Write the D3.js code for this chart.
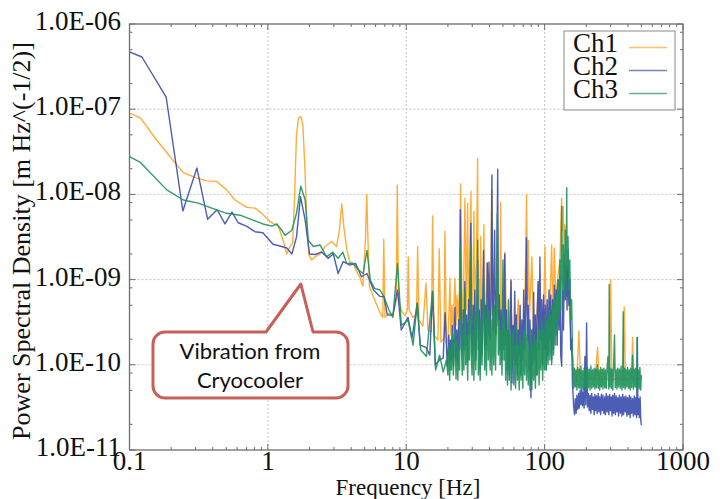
<!DOCTYPE html>
<head>
<meta charset='utf-8'>
<style>
  body { margin: 0; background: #fff; }
  svg { display: block; }
  .tick-label { font-family: 'Liberation Serif', 'Times New Roman', serif; font-size: 27px; fill: #111; }
  .axis-title { font-family: 'Liberation Serif', 'Times New Roman', serif; fill: #111; }
  .legend-text { font-family: 'Liberation Serif', 'Times New Roman', serif; font-size: 27px; fill: #111; }
  .callout-text { font-family: Lato, 'Open Sans', sans-serif; font-size: 22px; fill: #111; }
</style>
</head>
<body>
<div id='vis'></div>
<script src='https://cdn.jsdelivr.net/npm/d3@7'></script>
<script>
// ---- data: [frequency Hz, PSD m/Hz^(1/2)] ----
const ch1 = [
  [0.1,9.0e-8],[0.12,7.9e-8],[0.157,4.35e-8],[0.207,2.5e-8],[0.245,1.8e-8],[0.306,1.55e-8],
  [0.361,1.44e-8],[0.427,1.42e-8],[0.504,1.13e-8],[0.578,8.6e-9],[0.703,7.05e-9],[0.807,6.9e-9],
  [0.902,6.0e-9],[1.035,4.8e-9],[1.19,4.2e-9],[1.29,2.9e-9],[1.37,2.0e-9],[1.445,2.45e-9],
  [1.51,2.7e-9],[1.556,8.6e-9],[1.61,5.0e-8],[1.665,7.9e-8],[1.735,8.2e-8],[1.79,6.5e-8],
  [1.855,1.93e-8],[1.92,3.8e-9],[1.98,1.95e-9],[2.07,1.7e-9],[2.19,1.85e-9],[2.38,2.0e-9],
  [2.59,2.45e-9],[2.89,2.8e-9],[3.14,2.45e-9],[3.29,3.8e-9],[3.42,7.7e-9],[3.55,4.0e-9],
  [3.73,2.2e-9],[3.92,1.6e-9],[4.14,1.55e-9],[4.40,1.23e-9],[4.63,1.06e-9],[4.86,8.4e-10],
  [5.07,2.9e-9],[5.18,1.0e-8],[5.29,2.9e-9],[5.42,8.3e-10],[5.78,6.35e-10],[6.14,5.0e-10],
  [6.46,4.1e-10],[6.77,3.6e-10],[6.88,2.97e-9],[7.02,3.6e-10],[7.5,4.0e-10],[8.02,3.8e-10],
  [8.47,5.8e-10],[8.61,1.29e-8],[8.79,5.8e-10],[9.31,4.2e-10],[9.79,3.8e-10],[10.2,4.4e-10],
  [10.34,1.85e-9],[10.5,4.4e-10],[11.18,3.6e-10],[11.85,3.8e-10],[12.09,2.45e-9],[12.35,3.35e-10],
  [13.2,2.85e-10],[13.88,9.1e-10],[14.35,2.56e-10],[15.2,2.45e-10],[15.51,5.6e-9],[15.86,2.24e-10],
  [16.94,1.95e-10],[17.31,2.3e-9],[17.81,1.85e-10],[18.73,2.05e-10],[19.04,3.7e-9],[19.52,1.75e-10],
  [20,2.0e-10],[20.4,4.4e-10],[20.7,1.04e-9],[21.0,2.24e-10],[21.4,5.0e-10],[21.8,2.56e-10],
  [22.2,5.8e-10],[22.48,1.03e-9],[22.9,2.9e-10],[23.3,6.6e-10],[23.7,3.35e-10],[24.23,7.55e-10],
  [24.72,1.33e-8],[25.26,5.8e-10],[25.6,3.35e-10],[26.0,8.6e-10],[26.56,9.0e-9],[27.14,4.4e-10],
  [27.78,7.9e-9],[28.2,3.85e-10],[28.53,8.6e-10],[29.35,1.09e-8],[29.7,5.0e-10],[30.09,3.35e-10],
  [30.85,6.3e-9],[31.2,4.4e-10],[31.52,9.9e-10],[32.15,1.7e-9],[32.8,2.65e-8],[33.1,5.0e-10],
  [33.51,1.0e-9],[34.0,3.85e-10],[34.48,3.2e-9],[34.9,5.0e-10],[35.35,3.35e-10],[35.9,7.55e-10],
  [36.42,4.4e-9],[36.9,4.4e-10],[37.35,2.9e-10],[37.9,6.6e-10],[38.48,1.57e-9],[39.0,3.35e-10],
  [39.6,5.8e-10],[40.25,2.56e-10],[40.8,6.6e-10],[41.41,1.13e-8],[41.9,3.85e-10],[42.5,5.8e-10],
  [43.2,2.56e-10],[43.9,5.0e-10],[44.6,2.24e-10],[45.23,7.5e-10],[46.0,2.9e-10],[46.76,4.4e-10],
  [47.4,2.56e-10],[48.1,8.1e-9],[48.7,3.35e-10],[49.15,5.0e-10],
  [51.67,2.1e-9],[52.97,2.56e-10],[55.2,1.95e-10],
  [57.07,9.5e-10],[58.5,1.7e-10],[61.0,1.3e-10],[64.45,5.8e-10],[66.3,1.0e-10],[68.55,1.5e-10],
  [71.45,2.56e-10],[74.1,1.0e-8],[75.1,5.8e-10],[76.1,2.9e-9],[77.6,3.35e-10],[80.9,1.85e-9],
  [83.0,2.56e-10],[86.5,1.7e-10],[89.9,9.5e-10],[91.7,1.95e-10],[95.6,2.56e-10],[98.9,5.8e-10],
  [100.5,2.45e-9],[103.0,2.56e-10],[107.4,2.24e-10],[112.4,2.55e-9],[114.8,3.35e-10],[117.4,2.35e-9],
  [120.7,5.8e-10],[124.8,1.13e-9],[129,1.7e-9],[132.7,9.0e-9],[134.5,3.8e-9],[136.3,7.2e-9],
  [137.9,2.55e-9],[140.2,4.4e-9],[143.7,1.7e-9],[147.4,1.0e-9],[152.3,3.35e-10],[157.5,1.5e-10],
  [162.8,7.6e-11],[170.3,6.4e-11],[176.9,2.5e-10],[181.4,7.0e-11],[195.6,6.6e-11],[212.5,7.0e-11],
  [231,6.6e-11],[241.5,1.6e-10],[246.8,6.6e-11],[272.8,7.0e-11],[293.9,6.6e-11],[299.9,1.0e-9],
  [306.4,6.6e-11],[338.6,7.0e-11],[368,6.6e-11],[376,4.8e-10],[383.6,6.6e-11],[424,7.0e-11],
  [432.5,2.1e-10],[441.9,6.6e-11],[472.2,7.0e-11],[500,6.6e-11]
];

const ch2 = [
  [0.1,4.7e-7],[0.123,4.1e-7],[0.184,1.39e-7],[0.243,6.4e-9],[0.307,2.04e-8],[0.367,5.1e-9],
  [0.43,6.6e-9],[0.49,4.5e-9],[0.55,6.2e-9],[0.61,4.65e-9],[0.70,4.25e-9],[0.807,3.65e-9],
  [0.92,3.55e-9],[1.09,2.6e-9],[1.22,2.48e-9],[1.37,2.35e-9],[1.49,2.0e-9],[1.61,3.15e-9],
  [1.72,9.4e-9],[1.86,5.0e-9],[2.0,2.0e-9],[2.19,1.97e-9],[2.45,2.1e-9],[2.73,1.78e-9],
  [2.97,2.0e-9],[3.22,1.18e-9],[3.5,1.63e-9],[3.92,1.48e-9],[4.3,1.55e-9],[4.75,1.08e-9],
  [5.2,1.18e-9],[5.8,7.55e-10],[6.46,6.35e-10],[6.9,6.3e-10],[7.3,3.85e-10],[8.0,3.8e-10],
  [8.65,7.5e-10],[9.2,2.56e-10],[10.3,3.6e-10],[11.0,2.05e-10],[12.0,5.3e-10],[12.6,1.7e-10],
  [13.9,1.6e-10],[14.8,1.3e-10],[15.5,7.2e-10],[16.2,1.0e-10],[17.4,1.14e-10],[18.5,1.2e-10],
  [19.1,4.1e-10],[19.8,9.6e-11],
  [20,1.3e-10],[20.3,2.24e-10],[20.6,1.0e-10],[20.9,1.95e-10],[21.2,1.14e-10],[21.5,2.9e-10],
  [21.9,9.6e-11],[22.2,2.24e-10],[22.5,4.7e-10],[22.9,1.1e-10],[23.2,2.56e-10],[23.6,1.0e-10],
  [23.9,3.35e-10],[24.3,1.5e-10],[24.6,6.6e-9],[25,3.35e-10],[25.4,1.3e-10],[25.8,4.4e-10],
  [26.1,1.5e-10],[26.5,9.5e-10],[26.9,1.7e-10],[27.3,3.85e-10],[27.8,1.14e-10],[28.2,5.8e-10],
  [28.6,2.24e-10],[29.3,4.6e-9],[29.5,2.56e-10],[29.9,1.3e-10],[30.4,5.0e-10],[30.8,1.5e-10],
  [31.3,7.55e-10],[31.8,1.14e-10],[32.2,3.85e-10],[32.8,1.7e-9],[33.2,1.5e-10],[33.7,4.4e-10],
  [34.2,8.7e-11],[34.8,5.8e-10],[35.3,1.3e-10],[35.8,6.6e-10],[36.2,2.2e-9],[36.9,1.5e-10],
  [37.5,5.0e-10],[38,1.7e-10],[38.5,1.57e-9],[39.2,2.24e-10],[39.6,1.6e-9],[40.4,1.95e-10],
  [41,5.8e-10],[41.6,1.69e-8],[42.3,2.56e-10],[42.9,6.6e-10],[43.5,3.8e-9],[44.2,2.24e-10],
  [44.9,5.8e-10],[45.8,1.97e-8],[46.3,3.35e-10],[47,6.6e-10],[47.7,1.5e-10],[48.4,4.4e-10],
  [49.2,1.14e-10],
  [50,7.55e-10],[50.8,1.5e-10],[51.5,2.0e-9],[52.3,1.7e-10],[53.1,4.4e-10],[53.9,8.7e-11],
  [54.7,2.56e-10],[55.5,6.6e-11],[56.4,3.35e-10],[57.2,9.9e-10],[58.1,6.1e-11],[59,2.9e-10],
  [59.9,1.14e-10],[60.8,7.3e-10],[61.7,1.0e-10],[62.6,3.85e-10],[63.6,7.6e-11],[64.5,2.56e-10],
  [65.5,1.3e-10],[66.5,5.0e-10],[67.5,7.6e-11],[68.5,3.35e-10],[69.6,1.14e-10],[70.6,7.55e-10],
  [71.7,1.5e-10],[72.8,4.4e-10],[73.9,3.1e-9],[75,1.95e-10],[76.1,5.0e-10],[77.3,8.7e-11],
  [78.4,3.35e-10],[79.6,4.1e-11],[80.8,2.56e-10],[82,1.0e-10],[83.3,7.1e-10],[84.5,1.14e-10],
  [85.8,3.85e-10],[87.1,7.6e-11],[88.5,4.4e-10],[89.8,9.5e-10],[91.2,1.5e-10],[92.5,1.85e-9],
  [93.9,1.95e-10],[95.4,5.8e-10],[96.8,1.0e-10],[98.3,6.6e-10],[99.8,1.5e-10],[101.3,5.0e-10],
  [102.8,8.7e-11],[104.4,5.8e-10],[106,1.3e-10],[107.6,7.55e-10],[109.2,1.95e-10],[110.8,6.6e-10],
  [112.5,1.14e-10],[114.2,5.8e-10],[116,1.5e-10],[117.7,8.6e-10],[119.5,2.24e-10],[121.3,7.55e-10],
  [123.2,1.7e-10],[125,9.9e-10],[127,2.56e-10],[128.9,1.13e-9],[130.8,1.3e-10],[132.8,9.6e-11],
  [134.8,7.55e-10],[136.9,2.56e-10],[138.9,1.95e-9],[141,5.8e-10],[143.2,1.48e-9],[145.3,4.4e-10],
  [147.5,2.2e-9],[149.8,5.0e-10],[152,9.9e-10],[154.3,1.5e-10],[156.7,2.0e-10],[159.1,5.8e-11],
  [162,3.3e-11],[164.5,2.6e-11],[166.5,4.0e-11],[169,2.7e-11],[171,4.4e-11],[173.5,3.0e-11],
  [176,4.6e-11],[178,3.1e-11],[180.5,5.0e-11],[183,3.4e-11],[185.5,5.2e-11],[188,3.3e-11],
  [190.5,4.8e-11],[193,3.1e-11],[195.5,1.25e-10],[198.5,3.4e-11],[201,3.1e-10],[204,3.2e-11],
  [207,4.6e-11],[210,2.9e-11],[213,4.4e-11],[216,2.7e-11],[219,4.6e-11],[222,3.0e-11],
  [225,4.2e-11],[228,2.6e-11],[231,4.5e-11],[234,2.9e-11],[237,4.3e-11],[240,2.7e-11],
  [244,4.6e-11],[247,2.8e-11],[250,4.2e-11],[254,2.6e-11],[257,4.5e-11],[261,2.9e-11],
  [264,4.4e-11],[268,2.7e-11],[272,4.2e-11],[275,2.6e-11],[279,4.6e-11],[283,2.8e-11],
  [287,4.3e-11],[291,2.6e-11],[295,4.5e-11],[299,2.9e-11],[303,4.2e-11],[307,2.5e-11],
  [311,4.4e-11],[315,2.7e-11],[320,4.6e-11],[324,2.6e-11],[329,4.3e-11],[333,2.8e-11],
  [338,4.1e-11],[342,2.5e-11],[347,4.4e-11],[352,2.7e-11],[357,4.2e-11],[362,2.5e-11],
  [367,4.5e-11],[372,2.6e-11],[377,4.2e-11],[382,2.8e-11],[387,4.3e-11],[393,2.5e-11],
  [398,4.1e-11],[404,2.6e-11],[409,4.4e-11],[415,2.4e-11],[420,4.2e-11],[426,2.7e-11],
  [432,4.0e-11],[438,2.5e-11],[444,4.3e-11],[450,2.6e-11],[456,4.1e-11],[462,2.4e-11],
  [468,2.1e-10],[472,2.6e-11],[478,4.0e-11],[484,2.4e-11],[490,4.2e-11],[495,2.3e-11],
  [500,1.96e-11]
];

const ch3 = [
  [0.1,2.77e-8],[0.119,2.4e-8],[0.186,1.13e-8],[0.245,8.6e-9],[0.314,7.9e-9],[0.393,6.9e-9],
  [0.504,6.0e-9],[0.63,5.7e-9],[0.78,5.0e-9],[0.92,4.5e-9],[1.07,4.25e-9],[1.16,4.5e-9],
  [1.26,3.8e-9],[1.33,3.3e-9],[1.49,3.8e-9],[1.61,6.0e-9],[1.73,1.25e-8],[1.86,8.6e-9],
  [1.96,2.9e-9],[2.13,2.45e-9],[2.38,2.55e-9],[2.66,1.85e-9],[2.94,2.1e-9],[3.22,1.78e-9],
  [3.48,2.1e-9],[3.71,1.55e-9],[4.14,1.55e-9],[4.5,1.3e-9],[4.88,1.18e-9],[5.2,2.2e-9],
  [5.5,9.9e-10],[5.9,7.9e-10],[6.46,7.55e-10],[6.9,6.3e-10],[7.5,4.4e-10],[8.0,3.6e-10],
  [8.65,1.55e-9],[9.2,2.9e-10],[10.3,3.35e-10],[11.2,1.7e-10],[12.0,5.3e-10],[12.7,1.5e-10],
  [14,1.25e-10],[15.5,7.3e-10],[16.3,8.7e-11],[17.4,1.3e-10],[18.5,8.2e-11],[19.5,1.14e-10],
  [20,7.6e-11],[20.3,1.7e-10],[20.6,6.6e-11],[20.9,1.5e-10],[21.2,8.7e-11],[21.5,2.24e-10],
  [21.9,7.6e-11],[22.2,1.3e-10],[22.5,2.56e-10],[22.9,6.8e-11],[23.2,1.95e-10],[23.6,6.6e-11],
  [23.9,1.5e-10],[24.3,8.7e-11],[24.6,2.45e-9],[25,1.7e-10],[25.4,7.6e-11],[25.8,2.56e-10],
  [26.1,8.7e-11],[26.5,7.55e-10],[26.9,1.0e-10],[27.3,2.24e-10],[27.8,6.6e-11],[28.2,3.35e-10],
  [28.6,1.14e-10],[29.3,2.55e-9],[29.5,1.3e-10],[29.9,7.6e-11],[30.4,2.56e-10],[30.8,6.6e-11],
  [31.3,3.85e-10],[31.8,8.7e-11],[32.2,2.24e-10],[32.8,2.9e-9],[33.2,7.6e-11],[33.7,2.56e-10],
  [34.2,6.6e-11],[34.8,3.35e-10],[35.3,1.0e-10],[35.8,4.4e-10],[36.2,1.08e-9],[36.9,8.7e-11],
  [37.5,3.35e-10],[38,7.6e-11],[38.5,5.8e-10],[39.2,1.14e-10],[39.6,4.4e-10],[40.4,8.7e-11],
  [41,3.35e-10],[41.6,7.6e-11],[42.3,4.4e-10],[42.9,1.0e-10],[43.5,5.0e-10],[44.2,8.7e-11],
  [44.9,3.85e-10],[45.5,6.0e-9],[46.3,1.3e-10],[47,3.35e-10],[47.7,1.0e-10],[48.4,2.56e-10],
  [49.2,7.6e-11],
  [50,1.7e-9],[50.8,1.14e-10],[51.5,3.35e-10],[52.3,6.6e-11],[53.1,2.56e-10],[53.9,5.8e-11],
  [54.7,5.8e-10],[55.5,7.6e-11],[56.4,2.24e-10],[57.2,5.06e-11],[58.1,1.95e-10],[59,2.56e-10],
  [59.9,5.8e-11],[60.8,1.7e-10],[61.7,5.3e-11],[62.6,2.9e-10],[63.6,6.6e-11],[64.5,1.7e-10],
  [65.5,5.06e-11],[66.5,2.24e-10],[67.5,6.6e-11],[68.5,1.95e-10],[69.6,5.3e-11],[70.6,2.56e-10],
  [71.7,7.6e-11],[72.8,3.35e-10],[73.9,6.6e-11],[75,2.24e-10],[76.1,5.8e-11],[77.3,1.5e-10],
  [78.4,5.06e-11],[79.6,2.56e-10],[80.8,5.06e-11],[82,1.7e-10],[83.3,6.6e-11],[84.5,2.24e-10],
  [85.8,5.3e-11],[87.1,1.95e-10],[88.5,7.6e-11],[89.8,2.9e-10],[91.2,5.8e-11],[92.5,2.56e-10],
  [93.9,8.7e-11],[95.4,3.35e-10],[96.8,6.6e-11],[98.3,2.56e-10],[99.8,8.7e-11],[101.3,3.85e-10],
  [102.8,8.7e-11],[104.4,3.35e-10],[106,1.0e-10],[107.6,4.4e-10],[109.2,1.14e-10],[110.8,3.85e-10],
  [112.5,1.0e-10],[114.2,5.0e-10],[116,1.3e-10],[117.7,5.8e-10],[119.5,1.7e-10],[121.3,6.6e-10],
  [123.2,2.24e-10],[125,9.9e-10],[127,3.35e-10],[128.9,1.7e-9],[130.8,4.4e-10],[132.8,7.2e-9],
  [134.8,7.55e-10],[136.9,2.55e-9],[138.9,5.8e-10],[141,3.8e-9],[143.2,9.9e-10],[144.5,1.2e-8],
  [145.3,1.3e-9],[147.5,3.2e-9],[149.8,7.55e-10],[152,1.7e-9],[154.3,3.35e-10],[156.7,5.8e-10],
  [159.1,1.3e-10],
  [162,5.3e-11],[164.5,9.1e-11],[166.5,5.5e-11],[169,8.7e-11],[171,5.06e-11],[173.5,9.3e-11],
  [176,5.4e-11],[178,8.9e-11],[180.5,5.2e-11],[183,9.6e-11],[185.5,5.3e-11],[188,8.5e-11],
  [190.5,5.06e-11],[193,9.1e-11],[196,5.5e-11],[198.5,8.7e-11],[201,5.2e-11],[204,9.3e-11],
  [207,5.4e-11],[210,8.9e-11],[213,5.06e-11],[216,9.6e-11],[219,5.3e-11],[222,8.7e-11],
  [225,5.5e-11],[228,9.1e-11],[231,5.2e-11],[234,8.9e-11],[237,5.4e-11],[240,1.0e-10],
  [244,5.3e-11],[247,8.7e-11],[250,5.06e-11],[254,9.3e-11],[257,5.5e-11],[261,8.9e-11],
  [264,5.2e-11],[268,9.1e-11],[272,5.4e-11],[275,8.7e-11],[279,5.3e-11],[283,9.6e-11],
  [287,1.25e-10],[291,5.2e-11],[293,8.8e-10],[295,5.5e-11],[299,9.1e-11],[303,5.3e-11],
  [307,8.9e-11],[311,5.06e-11],[315,9.3e-11],[320,2.24e-10],[324,5.4e-11],[329,8.7e-11],
  [333,5.2e-11],[338,9.1e-11],[342,5.5e-11],[347,8.9e-11],[352,5.3e-11],[357,9.6e-11],
  [362,5.06e-11],[367,8.7e-11],[370,4.2e-10],[372,5.4e-11],[377,9.1e-11],[382,5.2e-11],
  [387,8.9e-11],[393,5.5e-11],[398,9.3e-11],[404,5.3e-11],[409,8.7e-11],[415,5.06e-11],
  [420,9.1e-11],[426,5.4e-11],[432,1.3e-10],[438,5.2e-11],[444,8.9e-11],[450,5.5e-11],
  [456,9.1e-11],[462,5.3e-11],[466,2.1e-10],[469,5.4e-11],[475,8.7e-11],[482,5.2e-11],
  [488,9.3e-11],[495,5.06e-11],[500,7.6e-11]
];

const seriesNames = ['Ch1', 'Ch2', 'Ch3'];
const xTickVals = [0.1, 1, 10, 100, 1000];
const xTickLabels = ['0.1', '1', '10', '100', '1000'];
const yTickVals = [1e-6, 1e-7, 1e-8, 1e-9, 1e-10, 1e-11];
const yTickLabels = ['1.0E-06', '1.0E-07', '1.0E-08', '1.0E-09', '1.0E-10', '1.0E-11'];
const calloutLines = ['Vibration from', 'Cryocooler'];

const colours = ['#ffa629', '#3c4fae', '#22915c'];
const W = 720, H = 499;
const plotL = 129.5, plotR = 683, plotT = 24, plotB = 450;

const x = d3.scaleLog().domain([0.1, 1000]).range([plotL, plotR]);
const y = d3.scaleLog().domain([1e-11, 1e-6]).range([plotB, plotT]);

const svg = d3.select('#vis').append('svg')
  .attr('width', W).attr('height', H);

svg.append('defs').append('clipPath').attr('id', 'clip')
  .append('rect')
  .attr('x', plotL).attr('y', plotT)
  .attr('width', plotR - plotL).attr('height', plotB - plotT);

// grid lines at decades
const grid = svg.append('g').attr('class', 'grid')
  .attr('stroke', '#c4c4c4').attr('stroke-width', 1).attr('stroke-dasharray', '2,2');
grid.selectAll('.gx').data(xTickVals.slice(1, -1)).enter().append('line')
  .attr('x1', d => x(d)).attr('x2', d => x(d))
  .attr('y1', plotT).attr('y2', plotB);
grid.selectAll('.gy').data(yTickVals.slice(1, -1)).enter().append('line')
  .attr('y1', d => y(d)).attr('y2', d => y(d))
  .attr('x1', plotL).attr('x2', plotR);

// data lines, Ch3 drawn last (on top)
const line = d3.line().x(d => x(d[0])).y(d => y(d[1]));
const plot = svg.append('g').attr('clip-path', 'url(#clip)');
[ch1, ch2, ch3].forEach((s, i) => {
  plot.append('path')
    .datum(s)
    .attr('d', line)
    .attr('fill', 'none')
    .attr('stroke', colours[i])
    .attr('stroke-width', 1.4)
    .attr('stroke-linejoin', 'round')
    .attr('stroke-opacity', 0.92);
});

// frame and ticks
const frame = svg.append('g').attr('stroke', '#6e6e6e');
frame.append('rect')
  .attr('x', plotL).attr('y', plotT)
  .attr('width', plotR - plotL).attr('height', plotB - plotT)
  .attr('fill', 'none').attr('stroke-width', 1.3);

const xMinor = x.ticks().filter(d => xTickVals.indexOf(d) < 0);
const yMinor = y.ticks().filter(d => {
  const m = Math.round(d / Math.pow(10, Math.floor(Math.log10(d) + 1e-9)));
  return m === 2 || m === 5 || m === 8;
});

function xTicks(vals, len) {
  vals.forEach(v => {
    frame.append('line').attr('x1', x(v)).attr('x2', x(v))
      .attr('y1', plotB).attr('y2', plotB - len).attr('stroke-width', 1);
    frame.append('line').attr('x1', x(v)).attr('x2', x(v))
      .attr('y1', plotT).attr('y2', plotT + len).attr('stroke-width', 1);
  });
}
function yTicks(vals, len) {
  vals.forEach(v => {
    frame.append('line').attr('y1', y(v)).attr('y2', y(v))
      .attr('x1', plotL).attr('x2', plotL + len).attr('stroke-width', 1);
    frame.append('line').attr('y1', y(v)).attr('y2', y(v))
      .attr('x1', plotR).attr('x2', plotR - len).attr('stroke-width', 1);
  });
}
xTicks(xTickVals, 6);
xTicks(xMinor, 3);
yTicks(yTickVals, 6);
yTicks(yMinor, 3);

// tick labels
svg.append('g').selectAll('text').data(xTickVals).enter().append('text')
  .attr('class', 'tick-label')
  .attr('x', d => x(d)).attr('y', 470)
  .attr('text-anchor', 'middle')
  .text((d, i) => xTickLabels[i]);

svg.append('g').selectAll('text').data(yTickVals).enter().append('text')
  .attr('class', 'tick-label')
  .attr('x', 121).attr('y', d => y(d) + 6)
  .attr('text-anchor', 'end')
  .text((d, i) => yTickLabels[i]);

// axis titles
svg.append('text').attr('class', 'axis-title')
  .attr('x', 408).attr('y', 495)
  .attr('text-anchor', 'middle')
  .style('font-size', '23px')
  .text('Frequency [Hz]');

svg.append('text').attr('class', 'axis-title')
  .attr('transform', 'translate(30,241) rotate(-90)')
  .attr('text-anchor', 'middle')
  .style('font-size', '26px')
  .text('Power Spectral Density [m Hz^(-1/2)]');

// legend
const legend = svg.append('g');
legend.append('rect')
  .attr('x', 564).attr('y', 31).attr('width', 111).attr('height', 79)
  .attr('fill', '#fff').attr('stroke', '#8a8a8a').attr('stroke-width', 1);
seriesNames.forEach((name, i) => {
  legend.append('text').attr('class', 'legend-text')
    .attr('x', 573).attr('y', 52 + i * 23).text(name);
  legend.append('line')
    .attr('x1', 629).attr('x2', 667)
    .attr('y1', 47.5 + i * 23).attr('y2', 47.5 + i * 23)
    .attr('stroke', colours[i]).attr('stroke-width', 1.6).attr('stroke-opacity', 0.7);
});

// callout pointing to the cryocooler peak
const cx0 = 153, cx1 = 348, cy0 = 332, cy1 = 398, r = 12;
const tip = [x(1.73), 284];
const callout = d3.path();
callout.moveTo(cx0 + r, cy0);
callout.lineTo(266, cy0);
callout.lineTo(tip[0], tip[1]);
callout.lineTo(313, cy0);
callout.lineTo(cx1 - r, cy0);
callout.arcTo(cx1, cy0, cx1, cy0 + r, r);
callout.lineTo(cx1, cy1 - r);
callout.arcTo(cx1, cy1, cx1 - r, cy1, r);
callout.lineTo(cx0 + r, cy1);
callout.arcTo(cx0, cy1, cx0, cy1 - r, r);
callout.lineTo(cx0, cy0 + r);
callout.arcTo(cx0, cy0, cx0 + r, cy0, r);
callout.closePath();
svg.append('path')
  .attr('d', callout.toString())
  .attr('fill', '#fff')
  .attr('stroke', '#c8605a')
  .attr('stroke-width', 3)
  .attr('stroke-linejoin', 'round');

svg.append('g').selectAll('text').data(calloutLines).enter().append('text')
  .attr('class', 'callout-text')
  .attr('x', 250).attr('y', (d, i) => 359 + i * 29)
  .attr('text-anchor', 'middle')
  .text(d => d);
</script>
</body>
